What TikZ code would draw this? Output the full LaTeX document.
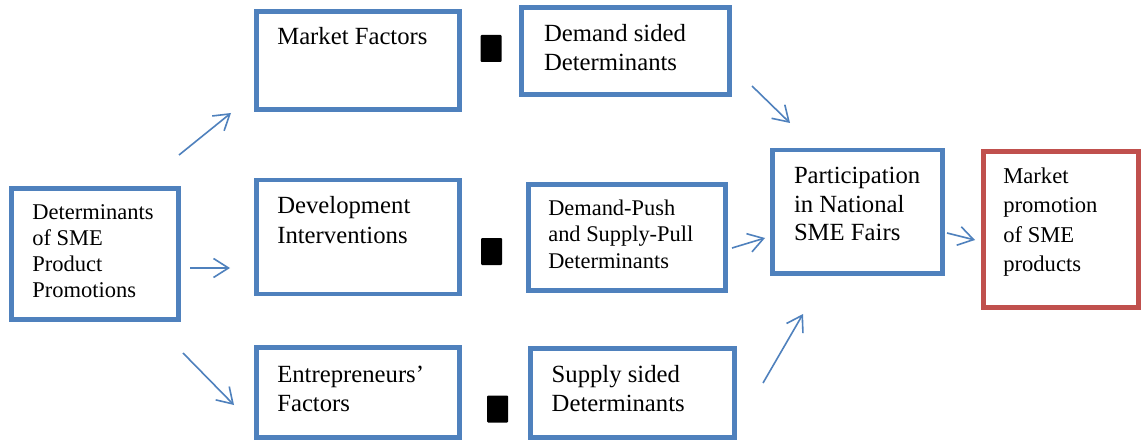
\documentclass[tikz,border=0pt]{standalone}
\usepackage{fontspec}
\setmainfont{Liberation Serif}
\usetikzlibrary{arrows.meta}
\definecolor{bblue}{HTML}{4F81BD}
\definecolor{bred}{HTML}{C0504D}
\newcommand{\bigf}{\fontsize{24.7}{29}\selectfont}
\newcommand{\detf}{\fontsize{22.5}{26}\selectfont}
\newcommand{\dpf}{\fontsize{22.4}{26.5}\selectfont}
\newcommand{\redf}{\fontsize{22.6}{29.6}\selectfont}
\newcommand{\ml}[1]{\begin{tabular}[t]{@{}l@{}}#1\end{tabular}}
\begin{document}
\begin{tikzpicture}[x=1pt,y=-1pt,
  boxb/.style={draw=bblue,line width=4.8pt,inner sep=0pt,outer sep=0pt,fill=white},
  boxr/.style={draw=bred,line width=4.8pt,inner sep=0pt,outer sep=0pt,fill=white},
  txt/.style={anchor=base west,inner sep=0pt,outer sep=0pt,text=black},
  blk/.style={fill=black,draw=none,inner sep=0pt,minimum width=21pt,minimum height=27pt,rounded corners=1pt},
  arr/.style={draw=bblue,line width=1.6pt,-{Straight Barb[length=15pt,width=19pt,line width=1.6pt]}}]
\useasboundingbox (0,0) rectangle (1141,441);
\fill[white] (0,0) rectangle (1141,441);

% boxes
\node[boxb,minimum width=166.6pt,minimum height=131.4pt] (det) at (95,254) {};
\node[boxb,minimum width=202.5pt,minimum height=98pt] (mf) at (358,60.5) {};
\node[boxb,minimum width=202.5pt,minimum height=114pt] (dev) at (358,237) {};
\node[boxb,minimum width=202.5pt,minimum height=89.7pt] (ent) at (358,392.7) {};
\node[boxb,minimum width=207.9pt,minimum height=86.7pt] (dsd) at (625.7,50.8) {};
\node[boxb,minimum width=197.6pt,minimum height=106.6pt] (dp) at (627,237.5) {};
\node[boxb,minimum width=203.4pt,minimum height=89pt] (ssd) at (632.5,393) {};
\node[boxb,minimum width=170pt,minimum height=123.2pt] (part) at (857.5,211.6) {};
\node[boxr,minimum width=155.1pt,minimum height=155.7pt] (mp) at (1060.75,229.65) {};

% texts
\node[txt] (detT) at (32.3,219) {\detf\ml{Determinants\\of SME\\Product\\Promotions}};
\node[txt] (mfT) at (277.3,45) {\bigf\ml{Market Factors}};
\node[txt] (devT) at (277.3,214) {\bigf\ml{Development\\Interventions}};
\node[txt] (entT) at (277.3,382) {\bigf\ml{Entrepreneurs’\\Factors}};
\node[txt] (dsdT) at (544,42) {\bigf\ml{Demand sided\\Determinants}};
\node[txt] (dpT) at (548.3,215) {\dpf\ml{Demand-Push\\and Supply-Pull\\Determinants}};
\node[txt] (ssdT) at (551.7,382) {\bigf\ml{Supply sided\\Determinants}};
\node[txt] (partT) at (794,183) {\bigf\ml{Participation\\in National\\SME Fairs}};
\node[txt] (mpT) at (1003.3,183) {\redf\ml{Market\\promotion\\of SME\\products}};

% black marks
\node[blk] (k1) at (491,48.5) {};
\node[blk] (k2) at (491.5,251.5) {};
\node[blk] (k3) at (497.5,409) {};

% arrow end points
\coordinate (a1s) at (179,155); \coordinate (a1e) at (231,113);
\coordinate (a2s) at (190,268); \coordinate (a2e) at (230,268);
\coordinate (a3s) at (183,353); \coordinate (a3e) at (234,405);
\coordinate (a4s) at (752,86);  \coordinate (a4e) at (790,123);
\coordinate (a5s) at (732,248); \coordinate (a5e) at (765,238);
\coordinate (a6s) at (947,233); \coordinate (a6e) at (975,240);
\coordinate (a7s) at (763,383); \coordinate (a7e) at (803,314);

\draw[arr] (a1s) -- (a1e);
\draw[arr] (a2s) -- (a2e);
\draw[arr] (a3s) -- (a3e);
\draw[arr] (a4s) -- (a4e);
\draw[arr] (a5s) -- (a5e);
\draw[arr] (a6s) -- (a6e);
\draw[arr] (a7s) -- (a7e);
\end{tikzpicture}
\end{document}
